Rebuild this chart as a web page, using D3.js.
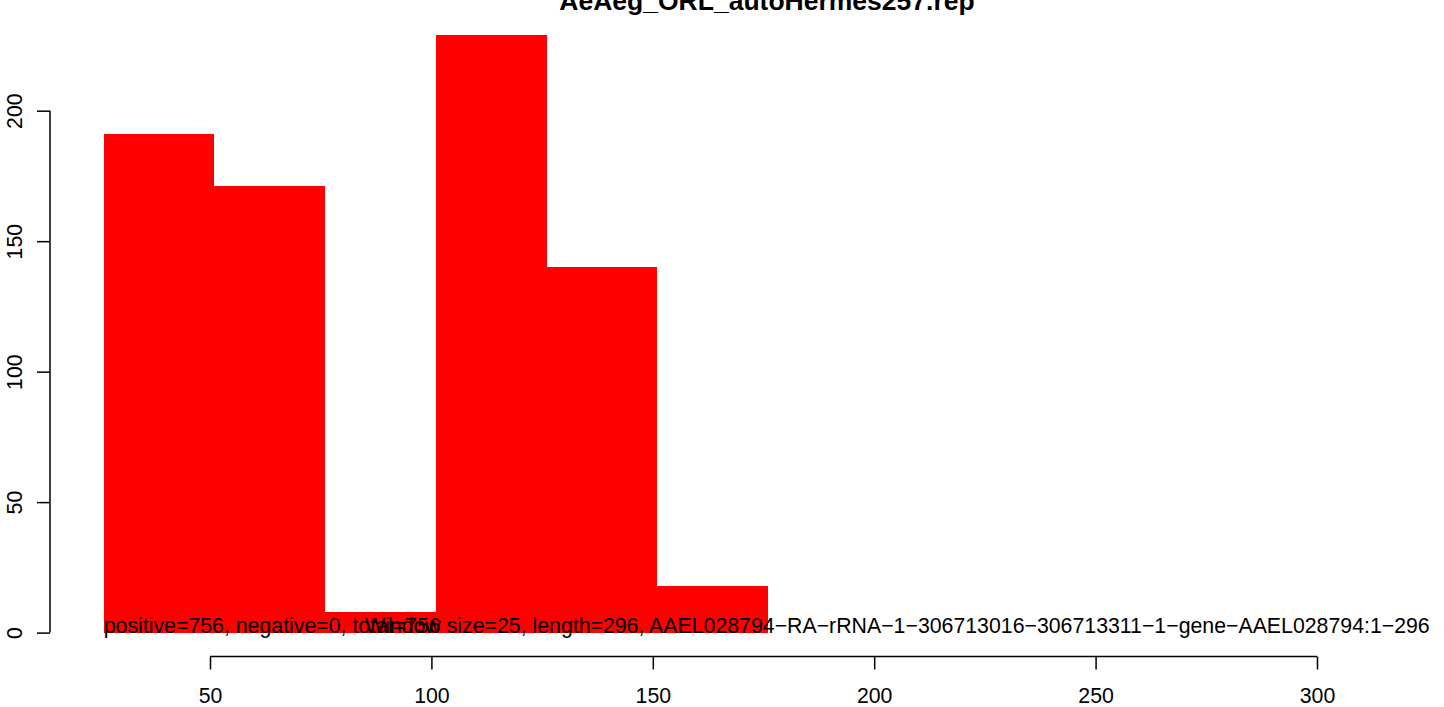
<!DOCTYPE html>
<html>
<head>
<meta charset="utf-8">
<script src="https://cdn.jsdelivr.net/npm/d3@7"></script>
<style>
  html, body { margin: 0; padding: 0; background: #fff; }
  svg { display: block; font-family: "Liberation Sans", Arial, Helvetica, sans-serif; }
</style>
</head>
<body>
<svg id="chart" width="1444" height="707"></svg>
<script>
// Histogram of window counts along the transcript
const binEdges = [26, 51, 76, 101, 126, 151, 176];
const counts = [191, 171, 8, 229, 140, 18];
const xTicks = [50, 100, 150, 200, 250, 300];
const yTicks = [0, 50, 100, 150, 200];
const xLimits = [25, 300];
const titleText = "AeAeg_ORL_autoHermes257.rep";
const summaryText = "positive=756, negative=0, total=756";
const infoText = "Window size=25, length=296, AAEL028794\u2212RA\u2212rRNA\u22121\u2212306713016\u2212306713311\u22121\u2212gene\u2212AAEL028794:1\u2212296";

const svg = d3.select("#chart");
const plot = { left: 50.6, right: 1365.7, top: 11.1, bottom: 656.5 };
const baseFont = 21.3;

// R-style 4% padding on both axes
const xPad = (xLimits[1] - xLimits[0]) * 0.04;
const x = d3.scaleLinear()
  .domain([xLimits[0] - xPad, xLimits[1] + xPad])
  .range([plot.left, plot.right]);
const yMax = d3.max(counts);
const y = d3.scaleLinear()
  .domain([-0.04 * yMax, 1.04 * yMax])
  .range([plot.bottom, plot.top]);

const bins = counts.map((c, i) => ({ x0: binEdges[i], x1: binEdges[i + 1], n: c }));

// Bars
svg.append("g")
  .selectAll("rect")
  .data(bins)
  .join("rect")
  .attr("x", d => x(d.x0))
  .attr("width", d => x(d.x1) - x(d.x0))
  .attr("y", d => y(d.n))
  .attr("height", d => y(0) - y(d.n))
  .attr("fill", "#ff0000")
  .attr("shape-rendering", "crispEdges");

// Annotation texts on the baseline
svg.append("text")
  .attr("x", x(binEdges[0]))
  .attr("y", y(0))
  .attr("font-size", baseFont)
  .attr("fill", "#000")
  .text(summaryText);

svg.append("text")
  .attr("x", x(85))
  .attr("y", y(0))
  .attr("font-size", baseFont)
  .attr("fill", "#000")
  .text(infoText);

// X axis: line spans first to last tick only
const gx = svg.append("g")
  .attr("transform", `translate(0,${plot.bottom})`)
  .call(d3.axisBottom(x).tickValues(xTicks).tickSize(13).tickSizeOuter(0).tickFormat(d3.format("d")));
gx.select(".domain")
  .attr("d", `M${x(xTicks[0])},0H${x(xTicks[xTicks.length - 1])}`);
gx.selectAll("line, path").attr("stroke", "#000").attr("stroke-width", 1.5);
gx.selectAll("text")
  .attr("y", 46).attr("dy", 0)
  .attr("font-size", baseFont)
  .attr("font-family", "Liberation Sans, Arial, sans-serif")
  .attr("fill", "#000");

// Y axis with labels rotated parallel to the axis
const gy = svg.append("g")
  .attr("transform", `translate(${plot.left - 0.6},0)`)
  .call(d3.axisLeft(y).tickValues(yTicks).tickSize(13).tickSizeOuter(0).tickFormat(d3.format("d")));
gy.select(".domain")
  .attr("d", `M0,${y(yTicks[0])}V${y(yTicks[yTicks.length - 1])}`);
gy.selectAll("line, path").attr("stroke", "#000").attr("stroke-width", 1.5);
gy.selectAll(".tick text")
  .attr("x", null).attr("dy", null)
  .attr("transform", "translate(-28,0) rotate(-90)")
  .attr("text-anchor", "middle")
  .attr("font-size", baseFont)
  .attr("font-family", "Liberation Sans, Arial, sans-serif")
  .attr("fill", "#000");

// Title (partly above the visible area)
svg.append("text")
  .attr("x", 767)
  .attr("y", 10)
  .attr("text-anchor", "middle")
  .attr("font-size", 26.5)
  .attr("font-weight", "bold")
  .attr("fill", "#000")
  .text(titleText);
</script>
</body>
</html>
